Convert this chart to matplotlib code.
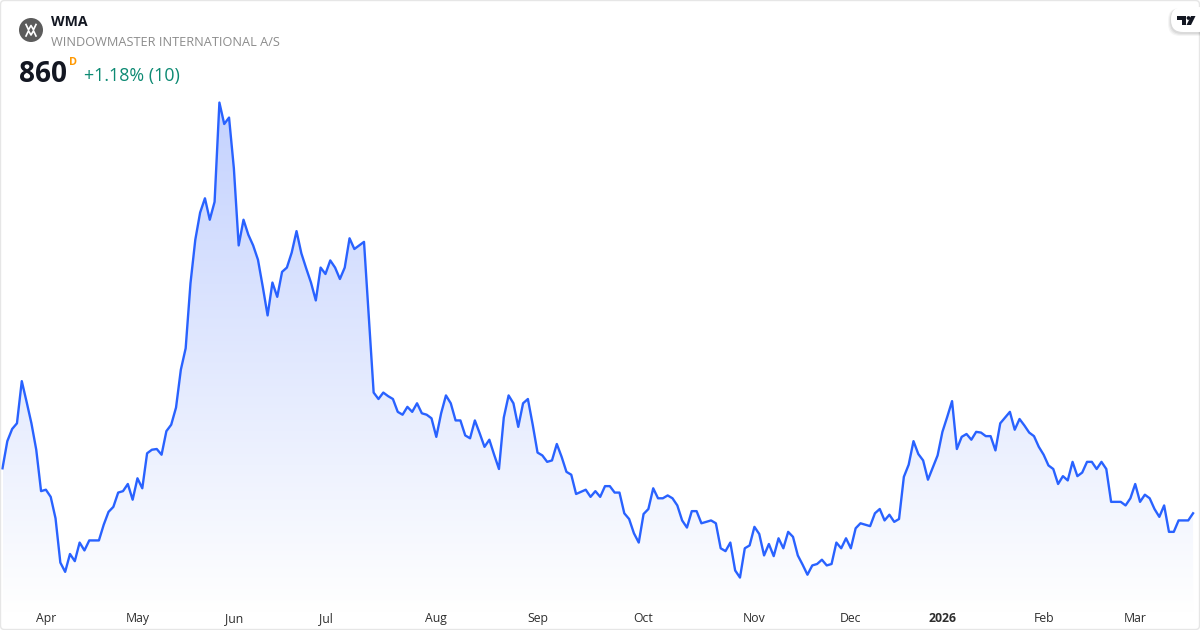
import numpy as np
import matplotlib
matplotlib.use("Agg")
import matplotlib.pyplot as plt
from matplotlib.colors import LinearSegmentedColormap
from matplotlib.patches import Circle, FancyBboxPatch, Polygon

plt.rcParams['font.family'] = ['Open Sans', 'DejaVu Sans']

# daily close
prices = [
    923, 961, 978, 986, 1045, 1016, 986, 949, 891, 893, 883, 853, 791, 778, 803, 793,
    819, 808, 822, 822, 822, 844, 862, 869, 889, 891, 901, 879, 909, 895, 944, 949,
    950, 942, 975, 984, 1008, 1061, 1091, 1182, 1243, 1281, 1301, 1271, 1296, 1435, 1405, 1414,
    1343, 1235, 1271, 1250, 1235, 1215, 1177, 1137, 1183, 1163, 1198, 1204, 1225, 1255, 1224, 1203,
    1183, 1158, 1204, 1195, 1214, 1204, 1188, 1204, 1245, 1230, 1235, 1240, 1135, 1029, 1020, 1029,
    1024, 1020, 1002, 998, 1009, 1002, 1014, 1000, 998, 993, 967, 1000, 1025, 1014, 990, 990,
    969, 965, 990, 972, 953, 963, 942, 922, 994, 1025, 1014, 981, 1014, 1020, 984, 945,
    941, 932, 934, 957, 939, 918, 914, 887, 890, 893, 883, 891, 883, 898, 898, 889,
    889, 860, 852, 832, 819, 859, 866, 895, 881, 881, 885, 881, 871, 850, 840, 863,
    863, 846, 848, 850, 846, 811, 807, 819, 780, 770, 811, 815, 841, 831, 801, 817,
    800, 825, 811, 834, 827, 801, 788, 774, 787, 789, 795, 787, 789, 819, 811, 825,
    811, 839, 846, 844, 842, 860, 866, 850, 858, 848, 852, 911, 928, 961, 943, 934,
    907, 924, 941, 974, 995, 1017, 950, 967, 971, 963, 974, 973, 968, 968, 948, 986,
    994, 1002, 977, 992, 983, 973, 968, 953, 942, 927, 922, 901, 912, 906, 932, 912,
    917, 932, 932, 922, 932, 922, 876, 876, 876, 871, 881, 901, 876, 886, 881, 866,
    855, 871, 834, 834, 850, 850, 850, 860,
]
month_pos = [9, 28, 48, 67, 90, 111, 133, 156, 176, 195, 216, 235]
month_labels = ['Apr', 'May', 'Jun', 'Jul', 'Aug', 'Sep', 'Oct', 'Nov', 'Dec', '2026', 'Feb', 'Mar']

x = np.arange(len(prices))

fig = plt.figure(figsize=(12, 6.3), dpi=100, facecolor='white')
ax = fig.add_axes([0, 0, 1, 1])
for s in ax.spines.values():
    s.set_visible(False)
ax.set_yticks([])
ax.set_xticks(month_pos)
ax.set_xticklabels(month_labels, fontsize=8.8, color='#2e2e2e')
ax.tick_params(axis='x', length=0, pad=-13)
ax.get_xticklabels()[9].set_fontweight('bold')

# gradient under the line
fade = LinearSegmentedColormap.from_list('fade', ['#c4d2fe', '#ffffff'])
grad = ax.imshow(np.linspace(0, 1, 256).reshape(-1, 1), cmap=fade, aspect='auto',
                 extent=(x[0], x[-1], 720, max(prices)), origin='upper', zorder=1)
verts = [(x[0], 720)] + list(zip(x, prices)) + [(x[-1], 720)]
clip = Polygon(verts, closed=True, transform=ax.transData, facecolor='none', edgecolor='none')
ax.add_patch(clip)
grad.set_clip_path(clip)
ax.set_xlim(-0.519, 248.44)
ax.set_ylim(696.6, 1578.6)

ax.plot(x, prices, color='#2962ff', lw=1.7, solid_joinstyle='round', zorder=2)

# header and frame, drawn in pixel coordinates
top = fig.add_axes([0, 0, 1, 1], facecolor='none')
top.set_xlim(0, 1200)
top.set_ylim(630, 0)
top.axis('off')

top.add_patch(FancyBboxPatch((0.5, 0.5), 1199, 629, boxstyle='round,pad=0,rounding_size=4',
                             facecolor='none', edgecolor='#e6e6e6', lw=1.0))

# logo
top.add_patch(Circle((31, 30), 12, facecolor='#5c5c5c', edgecolor='none'))
top.plot([26, 28.5, 31, 33.5, 36], [24.5, 29.8, 25.5, 29.8, 24.5], color='white', lw=1.2)
top.plot([26, 28.5, 31, 33.5, 36], [36, 30.8, 35, 30.8, 36], color='white', lw=1.2)

top.text(51, 22, 'WMA', fontsize=10.2, fontweight='bold', color='#131722', va='center', ha='left')
top.text(51, 42, 'WINDOWMASTER INTERNATIONAL A/S', fontsize=9.2, color='#8c8c8c', va='center', ha='left')
top.text(18.5, 74, '860', fontsize=20.2, fontweight='bold', color='#131722', va='center', ha='left')
top.text(69, 62.5, 'D', fontsize=7.8, fontweight='bold', color='#ff9800', va='center', ha='left')
top.text(84, 76, '+1.18% (10)', fontsize=12.9, color='#0d8a73', va='center', ha='left')

# tradingview badge
for off, a in [(3.0, 0.04), (2.0, 0.05), (1.0, 0.06)]:
    top.add_patch(FancyBboxPatch((1171 - off, 8), 40 + off, 25 + off, boxstyle='round,pad=0,rounding_size=12',
                                 facecolor='black', edgecolor='none', alpha=a))
top.add_patch(FancyBboxPatch((1171, 7), 40, 25, boxstyle='round,pad=0,rounding_size=12',
                             facecolor='white', edgecolor='none'))
top.add_patch(Polygon([(1177, 16), (1186, 16), (1186, 25), (1181.5, 25), (1181.5, 20), (1177, 20)],
                      closed=True, facecolor='#131722', edgecolor='none'))
top.add_patch(Circle((1188.5, 18), 1.9, facecolor='#131722', edgecolor='none'))
top.add_patch(Polygon([(1191, 16), (1195.5, 16), (1191, 25), (1186.5, 25)],
                      closed=True, facecolor='#131722', edgecolor='none'))

fig.savefig('out.png', dpi=100)
